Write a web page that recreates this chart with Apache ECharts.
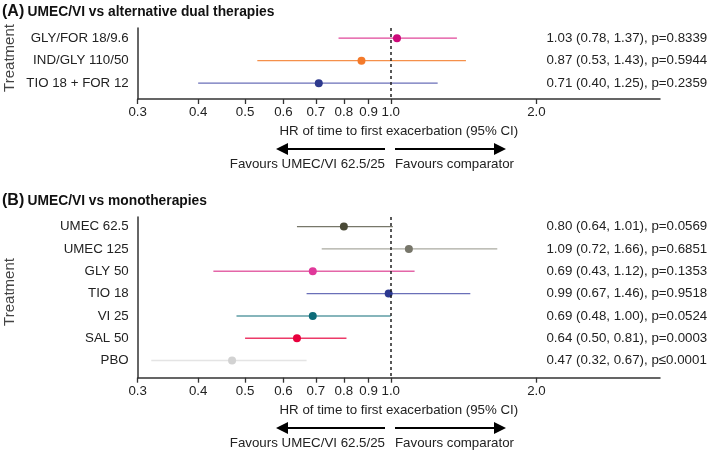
<!DOCTYPE html>
<html><head><meta charset="utf-8">
<script src="https://cdn.jsdelivr.net/npm/echarts@6/dist/echarts.min.js"></script>
<style>html,body{margin:0;padding:0;background:#fff}#c{width:708px;height:451px}</style>
</head><body><div id="c"></div>
<script>
// ---- data ----
const catsA = ['GLY/FOR 18/9.6', 'IND/GLY 110/50', 'TIO 18 + FOR 12'];
const estA = [1.03, 0.87, 0.71];
const loA = [0.78, 0.53, 0.40];
const hiA = [1.37, 1.43, 1.25];
const pA = ['=0.8339', '=0.5944', '=0.2359'];

const catsB = ['UMEC 62.5', 'UMEC 125', 'GLY 50', 'TIO 18', 'VI 25', 'SAL 50', 'PBO'];
const estB = [0.80, 1.09, 0.69, 0.99, 0.69, 0.64, 0.47];
const loB = [0.64, 0.72, 0.43, 0.67, 0.48, 0.50, 0.32];
const hiB = [1.01, 1.66, 1.12, 1.46, 1.00, 0.81, 0.67];
const pB = ['=0.0569', '=0.6851', '=0.1353', '=0.9518', '=0.0524', '=0.0003', '≤0.0001'];

const xTicks = [0.3, 0.4, 0.5, 0.6, 0.7, 0.8, 0.9, 1.0, 2.0];

// ---- styles ----
const dotA = ['#cc0a7a', '#f47a2a', '#2e3a8e'];
const lineA = ['#e0479a', '#f5904a', '#6a6fb8'];
const dotB = ['#4a4a36', '#77766a', '#e0389a', '#2b3890', '#0d6b78', '#e8003d', '#d2d2d2'];
const lineB = ['#77776a', '#aaaaa0', '#e466a8', '#6a6fb8', '#86b5bb', '#ec3a68', '#e4e4e4'];
const lwB = [1.3, 1.3, 1.3, 1.3, 2, 1.5, 1.3];

const FONT = 'Liberation Sans, Arial, sans-serif';
const fmt = v => v.toFixed(2);

function render(lo, hi, est, p, dotC, lineC, lw) {
  return function (params, api) {
    const i = api.value(1);
    const a = api.coord([lo[i], i]);
    const b = api.coord([hi[i], i]);
    const e = api.coord([est[i], i]);
    const t = api.coord([2.0, i]);
    return {
      type: 'group',
      children: [
        { type: 'line', shape: { x1: a[0], y1: a[1], x2: b[0], y2: b[1] },
          style: { stroke: lineC[i], lineWidth: lw ? lw[i] : 1.3 } },
        { type: 'circle', shape: { cx: e[0], cy: e[1], r: 4 }, style: { fill: dotC[i] } },
        { type: 'text', x: t[0] + 10, y: t[1],
          style: { text: fmt(est[i]) + ' (' + fmt(lo[i]) + ', ' + fmt(hi[i]) + '), p' + p[i],
                   fill: '#222', font: '13.3px ' + FONT, align: 'left', verticalAlign: 'middle' } }
      ]
    };
  };
}

function xAxis(gi) {
  return {
    type: 'log', logBase: 10, gridIndex: gi, min: 0.3, max: 3.6, position: 'bottom',
    axisLine: { show: true, onZero: false, lineStyle: { color: '#333', width: 1.5 } },
    axisTick: { show: true, length: 5, customValues: xTicks, lineStyle: { color: '#333', width: 1.3 } },
    axisLabel: { customValues: xTicks, formatter: v => Number(v).toFixed(1), color: '#222',
                 fontSize: 13.3, fontFamily: FONT, margin: 7, hideOverlap: false },
    splitLine: { show: false }, minorTick: { show: false },
    name: 'HR of time to first exacerbation (95% CI)', nameLocation: 'middle', nameGap: 26,
    nameTextStyle: { color: '#222', fontSize: 13.3, fontFamily: FONT }
  };
}
function yAxis(gi, cats, min, max) {
  return {
    type: 'value', gridIndex: gi, inverse: true, min: min, max: max,
    axisLine: { show: true, onZero: false, lineStyle: { color: '#333', width: 1.5 } },
    axisTick: { show: false },
    axisLabel: { customValues: cats.map((c, i) => i), formatter: v => cats[Math.round(v)],
                 color: '#222', fontSize: 13.3, fontFamily: FONT, margin: 9 },
    splitLine: { show: false }
  };
}

function arrows(y) {
  return [
    { type: 'line', shape: { x1: 287, y1: y, x2: 385, y2: y }, style: { stroke: '#000', lineWidth: 2 } },
    { type: 'polygon', shape: { points: [[276, y], [288, y - 6], [288, y + 6]] }, style: { fill: '#000' } },
    { type: 'line', shape: { x1: 395, y1: y, x2: 494, y2: y }, style: { stroke: '#000', lineWidth: 2 } },
    { type: 'polygon', shape: { points: [[506, y], [494, y - 6], [494, y + 6]] }, style: { fill: '#000' } },
    { type: 'text', x: 385, y: y + 15, style: { text: 'Favours UMEC/VI 62.5/25', fill: '#222', font: '13.3px ' + FONT, align: 'right', verticalAlign: 'middle' } },
    { type: 'text', x: 395, y: y + 15, style: { text: 'Favours comparator', fill: '#222', font: '13.3px ' + FONT, align: 'left', verticalAlign: 'middle' } }
  ];
}

const refLine = (gi) => ({
  type: 'line', xAxisIndex: gi, yAxisIndex: gi, data: [], z: 5,
  markLine: { silent: true, symbol: 'none', label: { show: false },
              lineStyle: { color: '#222', type: [3, 3], width: 1.5 },
              data: [{ xAxis: 1.0 }] }
});

const chart = echarts.init(document.getElementById('c'), null, { renderer: 'canvas' });
chart.setOption({
  animation: false,
  backgroundColor: '#fff',
  grid: [
    { left: 137.7, right: 48, top: 28, height: 71 },
    { left: 137.7, right: 48, top: 217, height: 160.7 }
  ],
  xAxis: [xAxis(0), xAxis(1)],
  yAxis: [yAxis(0, catsA, -0.45, 2.7), yAxis(1, catsB, -0.43, 6.77)],
  series: [
    { type: 'custom', xAxisIndex: 0, yAxisIndex: 0, clip: false,
      data: estA.map((e, i) => [e, i]), renderItem: render(loA, hiA, estA, pA, dotA, lineA) },
    refLine(0),
    { type: 'custom', xAxisIndex: 1, yAxisIndex: 1, clip: false,
      data: estB.map((e, i) => [e, i]), renderItem: render(loB, hiB, estB, pB, dotB, lineB, lwB) },
    refLine(1)
  ],
  graphic: [
    { type: 'text', left: 2, top: 4, style: { rich: {
        a: { font: 'bold 16px ' + FONT, fill: '#111' },
        b: { font: 'bold 13.8px ' + FONT, fill: '#111' } },
        text: '{a|(A)} {b|UMEC/VI vs alternative dual therapies}' } },
    { type: 'text', left: 2, top: 193, style: { rich: {
        a: { font: 'bold 16px ' + FONT, fill: '#111' },
        b: { font: 'bold 13.8px ' + FONT, fill: '#111' } },
        text: '{a|(B)} {b|UMEC/VI vs monotherapies}' } },
    { type: 'text', x: 10, y: 58, rotation: Math.PI / 2,
      style: { text: 'Treatment', fill: '#444', font: '15px ' + FONT, align: 'center', verticalAlign: 'middle' } },
    { type: 'text', x: 10, y: 292, rotation: Math.PI / 2,
      style: { text: 'Treatment', fill: '#444', font: '15px ' + FONT, align: 'center', verticalAlign: 'middle' } },
    { type: 'group', children: arrows(149) },
    { type: 'group', children: arrows(428) }
  ]
});
</script>
</body></html>
